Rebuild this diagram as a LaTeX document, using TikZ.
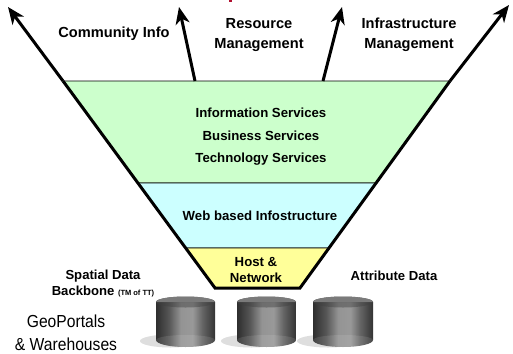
\documentclass[tikz,border=0pt]{standalone}
\usepackage{fontspec}
\setmainfont{Liberation Sans}
\newfontfamily\narrowfont[FakeStretch=0.9]{Liberation Sans}
\definecolor{fgreen}{HTML}{CCFFCC}
\definecolor{fcyan}{HTML}{CCFFFF}
\definecolor{fyellow}{HTML}{FFFF99}
\definecolor{fred}{HTML}{B01030}
\pgfdeclarehorizontalshading{cylside}{100bp}{
  color(0bp)=(black!82); color(25bp)=(black!82); color(36bp)=(black!66);
  color(46bp)=(black!42); color(56bp)=(black!40); color(64bp)=(black!60);
  color(75bp)=(black!80); color(100bp)=(black!80)}
\usetikzlibrary{arrows.meta,calc}
\newcommand{\barrel}[2]{%
  \fill[black!13] ({#1+(#2-#1)/2-15},341) ellipse ({(#2-#1)/2+1} and 6.5);
  \begin{scope}
    \clip (#1,302) -- (#1,340) arc[start angle=180,end angle=360,x radius={(#2-#1)/2},y radius=-7] -- (#2,302) arc[start angle=0,end angle=180,x radius={(#2-#1)/2},y radius=-5.5] -- cycle;
    \shade[shading=cylside] (#1,290) rectangle (#2,352);
    \fill[white,opacity=.10] (#1,340) arc[start angle=180,end angle=360,x radius={(#2-#1)/2},y radius=5] -- (#2,352) -- (#1,352) -- cycle;
  \end{scope}
  \fill[black!52] (#1,302) arc[start angle=180,end angle=0,x radius={(#2-#1)/2},y radius=-5.5] -- cycle;
  \fill[black!75,opacity=.45] (#1,302) arc[start angle=180,end angle=360,x radius={(#2-#1)/2},y radius=-5.5] -- cycle;
}
\tikzset{
  lbl/.style={font=\fontsize{14.6}{20}\selectfont\bfseries,align=center,inner sep=0pt,text=black},
  inner/.style={font=\fontsize{13.2}{15}\selectfont\bfseries,align=center,inner sep=0pt,text=black},
  plain/.style={font=\narrowfont\fontsize{17.4}{22.6}\selectfont,align=center,inner sep=0pt,text=black},
  wall/.style={line width=3pt,black},
  flowarrow/.style={line width=3pt,black,-{Stealth[length=17pt,width=14pt,inset=5pt]}},
  band/.style={draw=black,line width=.7pt}
}
\begin{document}
\begin{tikzpicture}[x=1pt,y=-1pt]
\useasboundingbox (0,0) rectangle (513,353);
\coordinate (tl) at (63,81);
\coordinate (tr) at (450,81);
\coordinate (ml) at (138,183);
\coordinate (mr) at (376,183);
\coordinate (ll) at (186,248);
\coordinate (lr) at (329,248);
\coordinate (bl) at (215,288);
\coordinate (br) at (300,288);
\coordinate (a1) at (8,7);
\coordinate (a2) at (179,7);
\coordinate (a3) at (342,7);
\coordinate (a4) at (509,5);
\coordinate (s2) at (195,81);
\coordinate (s3) at (323,81);
\fill[fred] (228.5,0) rectangle (232,2.5);
\filldraw[band,fill=fgreen] (tl) -- (tr) -- (mr) -- (ml) -- cycle;
\filldraw[band,fill=fcyan] (ml) -- (mr) -- (lr) -- (ll) -- cycle;
\filldraw[band,fill=fyellow] (ll) -- (lr) -- (br) -- (bl) -- cycle;
\draw[wall,line join=miter] (tl) -- (bl) -- (br) -- (tr);
\draw[flowarrow] (tl) -- (a1);
\draw[flowarrow] (tr) -- (a4);
\draw[flowarrow] (s2) -- (a2);
\draw[flowarrow] (s3) -- (a3);
\node[lbl] (ci) at (114,34) {Community Info};
\node[lbl] (rm) at (259,35) {Resource\\Management};
\node[lbl] (im) at (409,35) {Infrastructure\\Management};
\node[inner] (is) at (261,113) {Information Services};
\node[inner] (bs) at (261,136) {Business Services};
\node[inner] (ts) at (261,159.5) {Technology Services};
\node[inner] (wb) at (260,216) {Web based Infostructure};
\node[inner,font=\fontsize{13.2}{16}\selectfont\bfseries] (hn) at (256,270) {Host \&\\Network};
\node[lbl,font=\fontsize{13.1}{16}\selectfont\bfseries] (sd) at (103,284) {Spatial Data\\Backbone {\fontsize{7.5}{8}\selectfont (TM of TT)}};
\node[lbl,font=\fontsize{13.1}{16}\selectfont\bfseries] (ad) at (394,276) {Attribute Data};
\node[plain] (gp) at (66,333) {GeoPortals\\\& Warehouses};
\barrel{156}{215}
\barrel{237}{296}
\barrel{313}{373}
\end{tikzpicture}
\end{document}
